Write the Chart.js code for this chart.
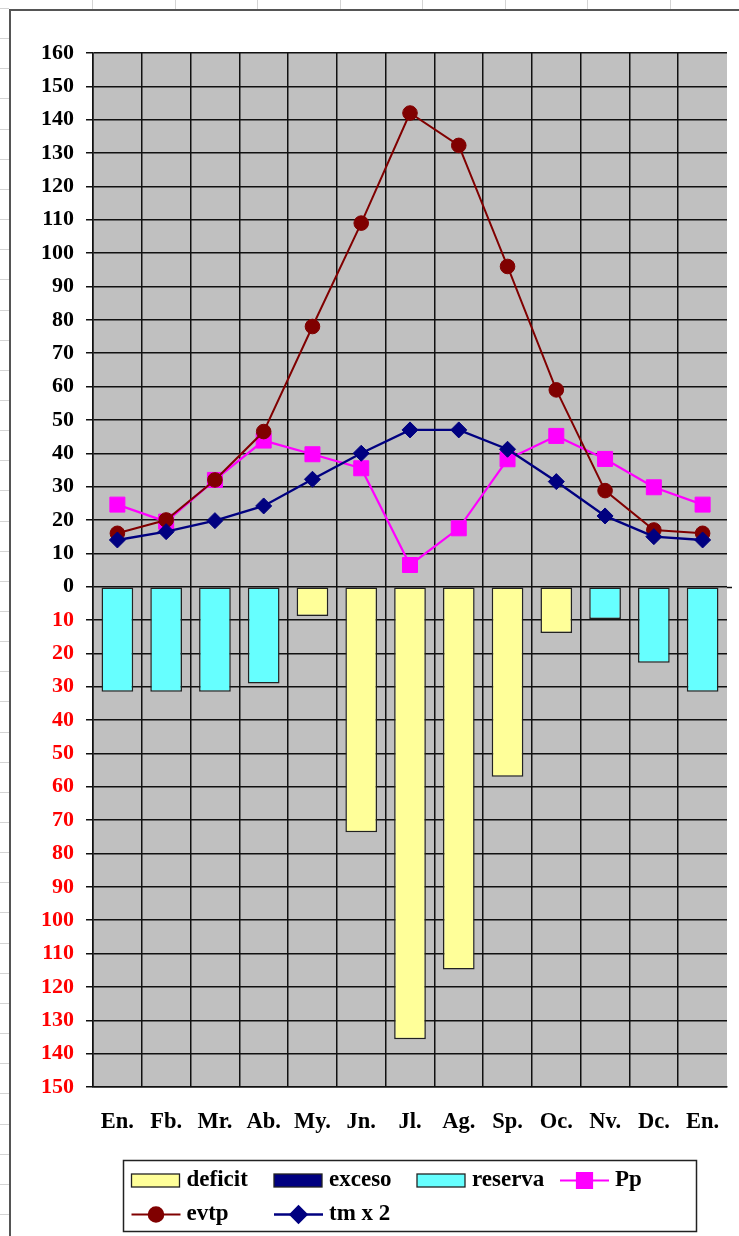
<!DOCTYPE html>
<html>
<head>
<meta charset="utf-8">
<script src="https://cdn.jsdelivr.net/npm/chart.js@4/dist/chart.umd.min.js"></script>
<style>
  html, body { margin: 0; padding: 0; background: #fff; overflow: hidden; }
  canvas { display: block; }
</style>
</head>
<body>
<canvas id="balance" width="739" height="1236"></canvas>
<script>
// Balance hídrico mensual (mm)
const meses   = ['En.', 'Fb.', 'Mr.', 'Ab.', 'My.', 'Jn.', 'Jl.', 'Ag.', 'Sp.', 'Oc.', 'Nv.', 'Dc.', 'En.'];
const deficit = [0, 0, 0, 0, 8.8, 73.6, 135.7, 114.8, 57, 13.9, 0, 0, 0];
const exceso  = [0, 0, 0, 0, 0, 0, 0, 0, 0, 0, 0, 0, 0];
const reserva = [31.5, 31.5, 31.5, 29, 0, 0, 0, 0, 0, 0, 9.7, 22.8, 31.5];
const pp      = [24.6, 19.5, 32, 43.8, 39.7, 35.5, 6.5, 17.5, 38.2, 45.2, 38.3, 29.8, 24.6];
const evtp    = [16, 20, 32, 46.5, 78, 109, 142, 132.3, 96, 59, 28.8, 17, 16];
const tmx2    = [14, 16.5, 19.8, 24.2, 32.2, 40, 47, 47, 41.2, 31.5, 21.2, 15, 14];
const ejeMin = -150, ejeMax = 160, ejePaso = 10;

const serif = 'Liberation Serif, Times New Roman, serif';
const abajo = v => v ? -v : 0;   // las barras de agua se dibujan bajo el cero

// Hoja de cálculo de fondo, marco del gráfico y área gris
const fondo = {
  id: 'fondo',
  beforeDraw(chart) {
    const { ctx, width: W, height: H, chartArea: a } = chart;
    ctx.save();
    ctx.fillStyle = '#fff';
    ctx.fillRect(0, 0, W, H);
    ctx.strokeStyle = '#d4d4d4';
    ctx.lineWidth = 1;
    ctx.beginPath();
    [92, 175, 257, 340, 422, 505, 587, 670].forEach(x => {
      ctx.moveTo(x + 0.5, 0); ctx.lineTo(x + 0.5, 9);
    });
    for (let y = 8; y < H; y += 30.15) {
      const yy = Math.round(y) + 0.5;
      ctx.moveTo(0, yy); ctx.lineTo(9, yy);
    }
    ctx.stroke();
    ctx.strokeStyle = '#555';
    ctx.lineWidth = 2;
    ctx.beginPath();
    ctx.moveTo(10, H); ctx.lineTo(10, 10); ctx.lineTo(W, 10);
    ctx.stroke();
    ctx.fillStyle = '#c0c0c0';
    ctx.fillRect(a.left, a.top, a.right - a.left, a.bottom - a.top);
    ctx.restore();
  },
  afterDraw(chart) {
    // pequeña marca del cero en el borde derecho
    const { ctx, chartArea: a, scales } = chart;
    const y0 = Math.round(scales.y.getPixelForValue(0)) + 0.5;
    ctx.save();
    ctx.strokeStyle = '#111';
    ctx.lineWidth = 1.5;
    ctx.beginPath();
    ctx.moveTo(a.right, y0); ctx.lineTo(a.right + 5, y0);
    ctx.stroke();
    ctx.restore();
  }
};

// Leyenda en cuatro columnas, con recuadro
const leyenda = {
  id: 'leyenda',
  afterDraw(chart) {
    const ctx = chart.ctx;
    ctx.save();
    ctx.fillStyle = '#fff';
    ctx.fillRect(123.5, 1160.5, 573, 71);
    ctx.strokeStyle = '#222';
    ctx.lineWidth = 1.5;
    ctx.strokeRect(123.5, 1160.5, 573, 71);
    const cols = [131.5, 274, 417, 560];
    const rows = [1180.5, 1214.5];
    ctx.font = 'bold 23px ' + serif;
    ctx.textBaseline = 'middle';
    ctx.textAlign = 'left';
    chart.data.datasets.forEach((ds, i) => {
      const x = cols[i % 4], y = rows[Math.floor(i / 4)];
      if (ds.type === 'line') {
        ctx.strokeStyle = ds.borderColor;
        ctx.lineWidth = ds.borderWidth;
        ctx.beginPath();
        ctx.moveTo(x, y); ctx.lineTo(x + 49, y);
        ctx.stroke();
        ctx.fillStyle = ds.pointBackgroundColor;
        ctx.strokeStyle = ds.pointBorderColor;
        Chart.helpers.drawPoint(ctx, {
          pointStyle: ds.pointStyle, radius: ds.pointRadius, rotation: 0, borderWidth: 1
        }, x + 24.5, y);
      } else {
        ctx.fillStyle = ds.backgroundColor;
        ctx.fillRect(x, y - 6.5, 48, 13);
        ctx.strokeStyle = '#222';
        ctx.lineWidth = 1.3;
        ctx.strokeRect(x, y - 6.5, 48, 13);
      }
      ctx.fillStyle = '#000';
      ctx.fillText(ds.label, x + 55, y - 0.5);
    });
    ctx.restore();
  }
};

const barra = (label, datos, color) => ({
  type: 'bar', label, data: datos.map(abajo), backgroundColor: color,
  borderColor: '#222', borderWidth: 1.5, borderSkipped: false,
  stack: 'agua', order: 4, barPercentage: 0.65, categoryPercentage: 1
});
const linea = (label, datos, color, estilo, radio, grosor, orden) => ({
  type: 'line', label, data: datos, borderColor: color, borderWidth: grosor,
  pointStyle: estilo, pointRadius: radio, pointHoverRadius: radio,
  pointBackgroundColor: color, pointBorderColor: color, pointBorderWidth: 1,
  tension: 0, fill: false, stack: label, order: orden
});

new Chart(document.getElementById('balance'), {
  type: 'bar',
  data: {
    labels: meses,
    datasets: [
      barra('deficit', deficit, '#ffff99'),
      barra('exceso', exceso, '#000080'),
      barra('reserva', reserva, '#66ffff'),
      linea('Pp', pp, '#ff00ff', 'rect', 10.6, 2.2, 3),
      linea('evtp', evtp, '#800000', 'circle', 7.3, 2, 2),
      linea('tm x 2', tmx2, '#000080', 'rectRot', 8, 2.4, 1)
    ]
  },
  options: {
    responsive: false,
    devicePixelRatio: 1,
    animation: false,
    events: [],
    layout: { padding: { left: 0, top: 53, right: 12, bottom: 89 } },
    plugins: { legend: { display: false }, tooltip: { enabled: false } },
    scales: {
      x: {
        stacked: true,
        offset: true,
        afterFit: s => { s.height = 60; s.paddingLeft = 0; s.paddingRight = 0; },
        grid: {
          offset: true,
          drawTicks: false,
          lineWidth: 1.5,
          color: c => (c.tick ? '#111' : 'rgba(0,0,0,0)')
        },
        border: { display: true, color: '#111', width: 1.5 },
        ticks: {
          color: '#000',
          padding: 22,
          maxRotation: 0,
          autoSkip: false,
          font: { family: serif, weight: 'bold', size: 22.5 }
        }
      },
      y: {
        stacked: true,
        min: ejeMin,
        max: ejeMax,
        afterFit: s => { s.width = 93; },
        grid: { color: '#111', lineWidth: 1.5, tickLength: 7 },
        border: { display: true, color: '#111', width: 1.5 },
        ticks: {
          stepSize: ejePaso,
          padding: 12,
          autoSkip: false,
          color: c => (c.tick && c.tick.value < 0 ? '#ff0000' : '#000'),
          font: { family: serif, weight: 'bold', size: 22 },
          callback: v => String(Math.abs(v))
        }
      }
    }
  },
  plugins: [fondo, leyenda]
});
</script>
</body>
</html>
